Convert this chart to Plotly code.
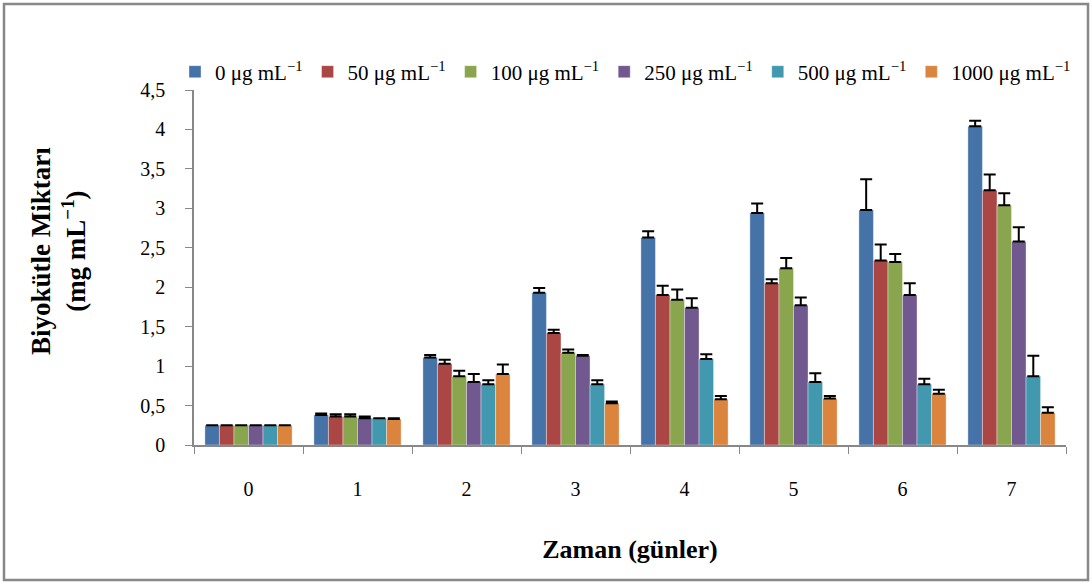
import plotly.graph_objects as go

days = ["0", "1", "2", "3", "4", "5", "6", "7"]
series_names = ["0 μg mL<sup>−1</sup>", "50 μg mL<sup>−1</sup>", "100 μg mL<sup>−1</sup>",
                "250 μg mL<sup>−1</sup>", "500 μg mL<sup>−1</sup>", "1000 μg mL<sup>−1</sup>"]
colors = ["#4572A7", "#AA4643", "#89A54E", "#71588F", "#4198AF", "#DB843D"]

v0    = [0.25, 0.38, 1.11, 1.93, 2.63, 2.94, 2.98, 4.04]
v50   = [0.25, 0.36, 1.03, 1.42, 1.90, 2.05, 2.34, 3.23]
v100  = [0.25, 0.36, 0.87, 1.17, 1.84, 2.24, 2.32, 3.04]
v250  = [0.25, 0.34, 0.80, 1.13, 1.74, 1.77, 1.90, 2.58]
v500  = [0.25, 0.34, 0.77, 0.77, 1.09, 0.80, 0.77, 0.87]
v1000 = [0.25, 0.33, 0.90, 0.53, 0.58, 0.59, 0.65, 0.41]

e0    = [0.0, 0.02, 0.03, 0.06, 0.08, 0.12, 0.39, 0.07]
e50   = [0.0, 0.03, 0.05, 0.04, 0.12, 0.05, 0.20, 0.20]
e100  = [0.0, 0.03, 0.07, 0.04, 0.13, 0.13, 0.10, 0.15]
e250  = [0.0, 0.02, 0.10, 0.01, 0.12, 0.10, 0.15, 0.18]
e500  = [0.0, 0.0, 0.05, 0.05, 0.06, 0.11, 0.07, 0.26]
e1000 = [0.0, 0.01, 0.12, 0.02, 0.04, 0.03, 0.05, 0.07]

values = [v0, v50, v100, v250, v500, v1000]
errors = [e0, e50, e100, e250, e500, e1000]

y_ticks = [0, 0.5, 1, 1.5, 2, 2.5, 3, 3.5, 4, 4.5]

x_title = "Zaman (günler)"
y_title = "Biyokütle Miktarı<br>(mg mL<sup>−1</sup>)"

FONT = "Liberation Serif"

fig = go.Figure()
for name, col, vals, errs in zip(series_names, colors, values, errors):
    fig.add_trace(go.Bar(
        x=days, y=vals, name=name,
        marker=dict(color=col, line=dict(width=0.6, color="rgba(255,255,255,0.6)")),
        error_y=dict(type="data", array=errs, arrayminus=[0]*len(errs), symmetric=False,
                     color="black", thickness=2, width=6),
    ))

L, R, T, B = 194, 26, 90, 138
W, H = 1092, 583
pw, ph = W - L - R, H - T - B

def px(x):
    return (x - L) / pw

def py(y):
    return (H - B - y) / ph

fig.update_layout(
    width=W, height=H,
    margin=dict(l=L, r=R, t=T, b=B, autoexpand=False),
    plot_bgcolor="white", paper_bgcolor="white",
    barmode="group", bargap=0.2, bargroupgap=0,
    separators=", ",
    font=dict(family=FONT, size=18, color="black"),
    showlegend=True,
    legend=dict(orientation="h", x=px(175), xanchor="left", y=py(72), yanchor="middle",
                font=dict(family=FONT, size=21), itemwidth=30, tracegroupgap=0,
                bgcolor="rgba(0,0,0,0)"),
    xaxis=dict(
        title=dict(text="<b>" + x_title + "</b>", font=dict(family=FONT, size=26), standoff=41),
        showline=True, linecolor="#888888", linewidth=1.5,
        ticks="outside", tickson="boundaries", ticklen=7, tickcolor="#888888",
        tickfont=dict(family=FONT, size=20), ticklabelstandoff=25, showgrid=False,
    ),
    yaxis=dict(
        range=[0, 4.5], tickvals=y_ticks, tickformat=".1~f",
        showline=True, linecolor="#888888", linewidth=1.5,
        ticks="outside", ticklen=7, tickcolor="#888888",
        tickfont=dict(family=FONT, size=20), ticklabelstandoff=16, showgrid=False, zeroline=False,
    ),
    annotations=[dict(text="<b>" + y_title + "</b>", xref="paper", yref="paper",
                      x=px(59), y=py(251), xanchor="center", yanchor="middle",
                      textangle=-90, showarrow=False,
                      font=dict(family=FONT, size=27, color="black"))],
    shapes=[dict(type="rect", xref="paper", yref="paper",
                 x0=px(4), x1=px(1088), y0=py(580), y1=py(4),
                 line=dict(color="#888888", width=2.5), fillcolor="rgba(0,0,0,0)", layer="below")],
)

fig.write_html("out.html", config={"displayModeBar": False},
               post_script="document.body.style.margin='0';")
